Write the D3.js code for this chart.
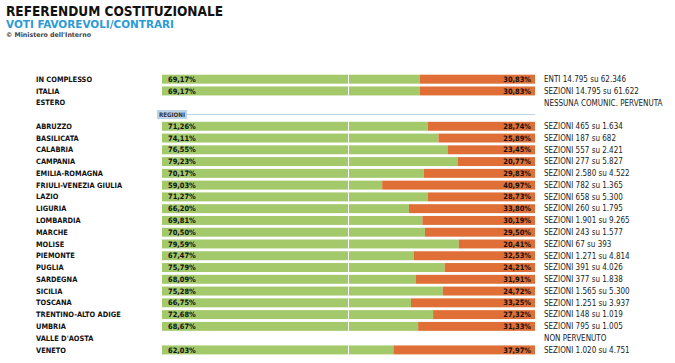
<!DOCTYPE html>
<html>
<head>
<meta charset="utf-8">
<style>
  body { margin: 0; background: #fff; }
  svg text { font-family: "DejaVu Sans Condensed", "DejaVu Sans", sans-serif; }
</style>
</head>
<body>
<svg width="675" height="363"></svg>
<script src="https://d3js.org/d3.v7.min.js"></script>
<script>

// rows of the table, top to bottom ("REGIONI" is the divider row)
var rows = ["IN COMPLESSO", "ITALIA", "ESTERO", "REGIONI",
  "ABRUZZO", "BASILICATA", "CALABRIA", "CAMPANIA", "EMILIA-ROMAGNA",
  "FRIULI-VENEZIA GIULIA", "LAZIO", "LIGURIA", "LOMBARDIA", "MARCHE",
  "MOLISE", "PIEMONTE", "PUGLIA", "SARDEGNA", "SICILIA", "TOSCANA",
  "TRENTINO-ALTO ADIGE", "UMBRIA", "VALLE D'AOSTA", "VENETO"];

// SI % (null = no data)
var favorevoli = [69.17, 69.17, null, null,
  71.26, 74.11, 76.55, 79.23, 70.17, 59.03, 71.27, 66.20, 69.81, 70.50,
  79.59, 67.47, 75.79, 68.09, 75.28, 66.75, 72.68, 68.67, null, 62.03];

// NO %
var contrari = [30.83, 30.83, null, null,
  28.74, 25.89, 23.45, 20.77, 29.83, 40.97, 28.73, 33.80, 30.19, 29.50,
  20.41, 32.53, 24.21, 31.91, 24.72, 33.25, 27.32, 31.33, null, 37.97];

var sezioni = ["ENTI 14.795 su 62.346", "SEZIONI 14.795 su 61.622", "NESSUNA COMUNIC. PERVENUTA", "",
  "SEZIONI 465 su 1.634", "SEZIONI 187 su 682", "SEZIONI 557 su 2.421", "SEZIONI 277 su 5.827",
  "SEZIONI 2.580 su 4.522", "SEZIONI 782 su 1.365", "SEZIONI 658 su 5.300", "SEZIONI 260 su 1.795",
  "SEZIONI 1.901 su 9.265", "SEZIONI 243 su 1.577", "SEZIONI 67 su 393", "SEZIONI 1.271 su 4.814",
  "SEZIONI 391 su 4.026", "SEZIONI 377 su 1.838", "SEZIONI 1.565 su 5.300", "SEZIONI 1.251 su 3.937",
  "SEZIONI 148 su 1.019", "SEZIONI 795 su 1.005", "NON PERVENUTO", "SEZIONI 1.020 su 4.751"];

var data = rows.map(function(r, i) {
  return { name: r, si: favorevoli[i], no: contrari[i], info: sezioni[i] };
});

var fmt = function(v) { return v.toFixed(2).replace(".", ",") + "%"; };

var svg = d3.select("svg");

var green = "#a3c96b", orange = "#df6f36";

var x = d3.scaleLinear().domain([0, 100]).range([162, 535]);
var y = d3.scaleBand().domain(rows).range([73.3, 355.8]).paddingInner(0.24).paddingOuter(0.12);

// titles
svg.append("text").attr("x", 6).attr("y", 15.5)
  .attr("font-size", 14.5).attr("font-weight", "bold").attr("fill", "#111")
  .attr("textLength", 217).attr("lengthAdjust", "spacingAndGlyphs")
  .text("REFERENDUM COSTITUZIONALE");
svg.append("text").attr("x", 6).attr("y", 28.2)
  .attr("font-size", 10.8).attr("font-weight", "bold").attr("fill", "#2b9bd6")
  .attr("textLength", 168).attr("lengthAdjust", "spacingAndGlyphs")
  .text("VOTI FAVOREVOLI/CONTRARI");
svg.append("text").attr("x", 6).attr("y", 36.5)
  .attr("font-size", 6.5).attr("font-weight", "bold").attr("fill", "#444")
  .attr("textLength", 85).attr("lengthAdjust", "spacingAndGlyphs")
  .text("© Ministero dell'Interno");

var withData = data.filter(function(d) { return d.si != null; });

// green bars
svg.selectAll("rect.si")
  .data(withData)
  .enter().append("rect")
    .attr("class", "si")
    .attr("x", x(0))
    .attr("y", function(d) { return y(d.name); })
    .attr("width", function(d) { return x(d.si) - x(0); })
    .attr("height", y.bandwidth())
    .attr("fill", green);

// orange bars
svg.selectAll("rect.no")
  .data(withData)
  .enter().append("rect")
    .attr("class", "no")
    .attr("x", function(d) { return x(d.si); })
    .attr("y", function(d) { return y(d.name); })
    .attr("width", function(d) { return x(100) - x(d.si); })
    .attr("height", y.bandwidth())
    .attr("fill", orange);

// 50% marker
svg.selectAll("line.mid")
  .data(withData)
  .enter().append("line")
    .attr("x1", x(50)).attr("x2", x(50))
    .attr("y1", function(d) { return y(d.name); })
    .attr("y2", function(d) { return y(d.name) + y.bandwidth(); })
    .attr("stroke", "#fff").attr("stroke-width", 1);

// percent labels
svg.selectAll("text.si")
  .data(withData)
  .enter().append("text")
    .attr("x", x(0) + 6)
    .attr("y", function(d) { return y(d.name) + y.bandwidth() / 2; })
    .attr("dy", "0.35em")
    .attr("font-size", 7.4).attr("font-weight", "bold").attr("fill", "#111")
    .text(function(d) { return fmt(d.si); });

svg.selectAll("text.no")
  .data(withData)
  .enter().append("text")
    .attr("x", x(100) - 4)
    .attr("y", function(d) { return y(d.name) + y.bandwidth() / 2; })
    .attr("dy", "0.35em")
    .attr("text-anchor", "end")
    .attr("font-size", 7.4).attr("font-weight", "bold").attr("fill", "#111")
    .text(function(d) { return fmt(d.no); });

// row names
svg.selectAll("text.name")
  .data(data.filter(function(d) { return d.name !== "REGIONI"; }))
  .enter().append("text")
    .attr("x", 36)
    .attr("y", function(d) { return y(d.name) + y.bandwidth() / 2; })
    .attr("dy", "0.35em")
    .attr("font-size", 7.4).attr("font-weight", "bold").attr("fill", "#111")
    .text(function(d) { return d.name; });

// right column info
svg.selectAll("text.info")
  .data(data.filter(function(d) { return d.info; }))
  .enter().append("text")
    .attr("x", 544)
    .attr("y", function(d) { return y(d.name) + y.bandwidth() / 2; })
    .attr("dy", "0.35em")
    .attr("font-size", 8).attr("fill", "#222")
    .text(function(d) { return d.info; });

// REGIONI divider
var ry = y("REGIONI") + y.bandwidth() / 2;
svg.append("line")
  .attr("x1", 186).attr("x2", x(100))
  .attr("y1", ry).attr("y2", ry)
  .attr("stroke", "#bcd3e8").attr("stroke-width", 1.2);
svg.append("rect")
  .attr("x", 157).attr("y", ry - 4.5)
  .attr("width", 30).attr("height", 9)
  .attr("fill", "#bcd3e8");
svg.append("text")
  .attr("x", 172).attr("y", ry)
  .attr("dy", "0.35em")
  .attr("text-anchor", "middle")
  .attr("font-size", 6.2).attr("font-weight", "bold").attr("fill", "#333")
  .text("REGIONI");

</script>
</body>
</html>
